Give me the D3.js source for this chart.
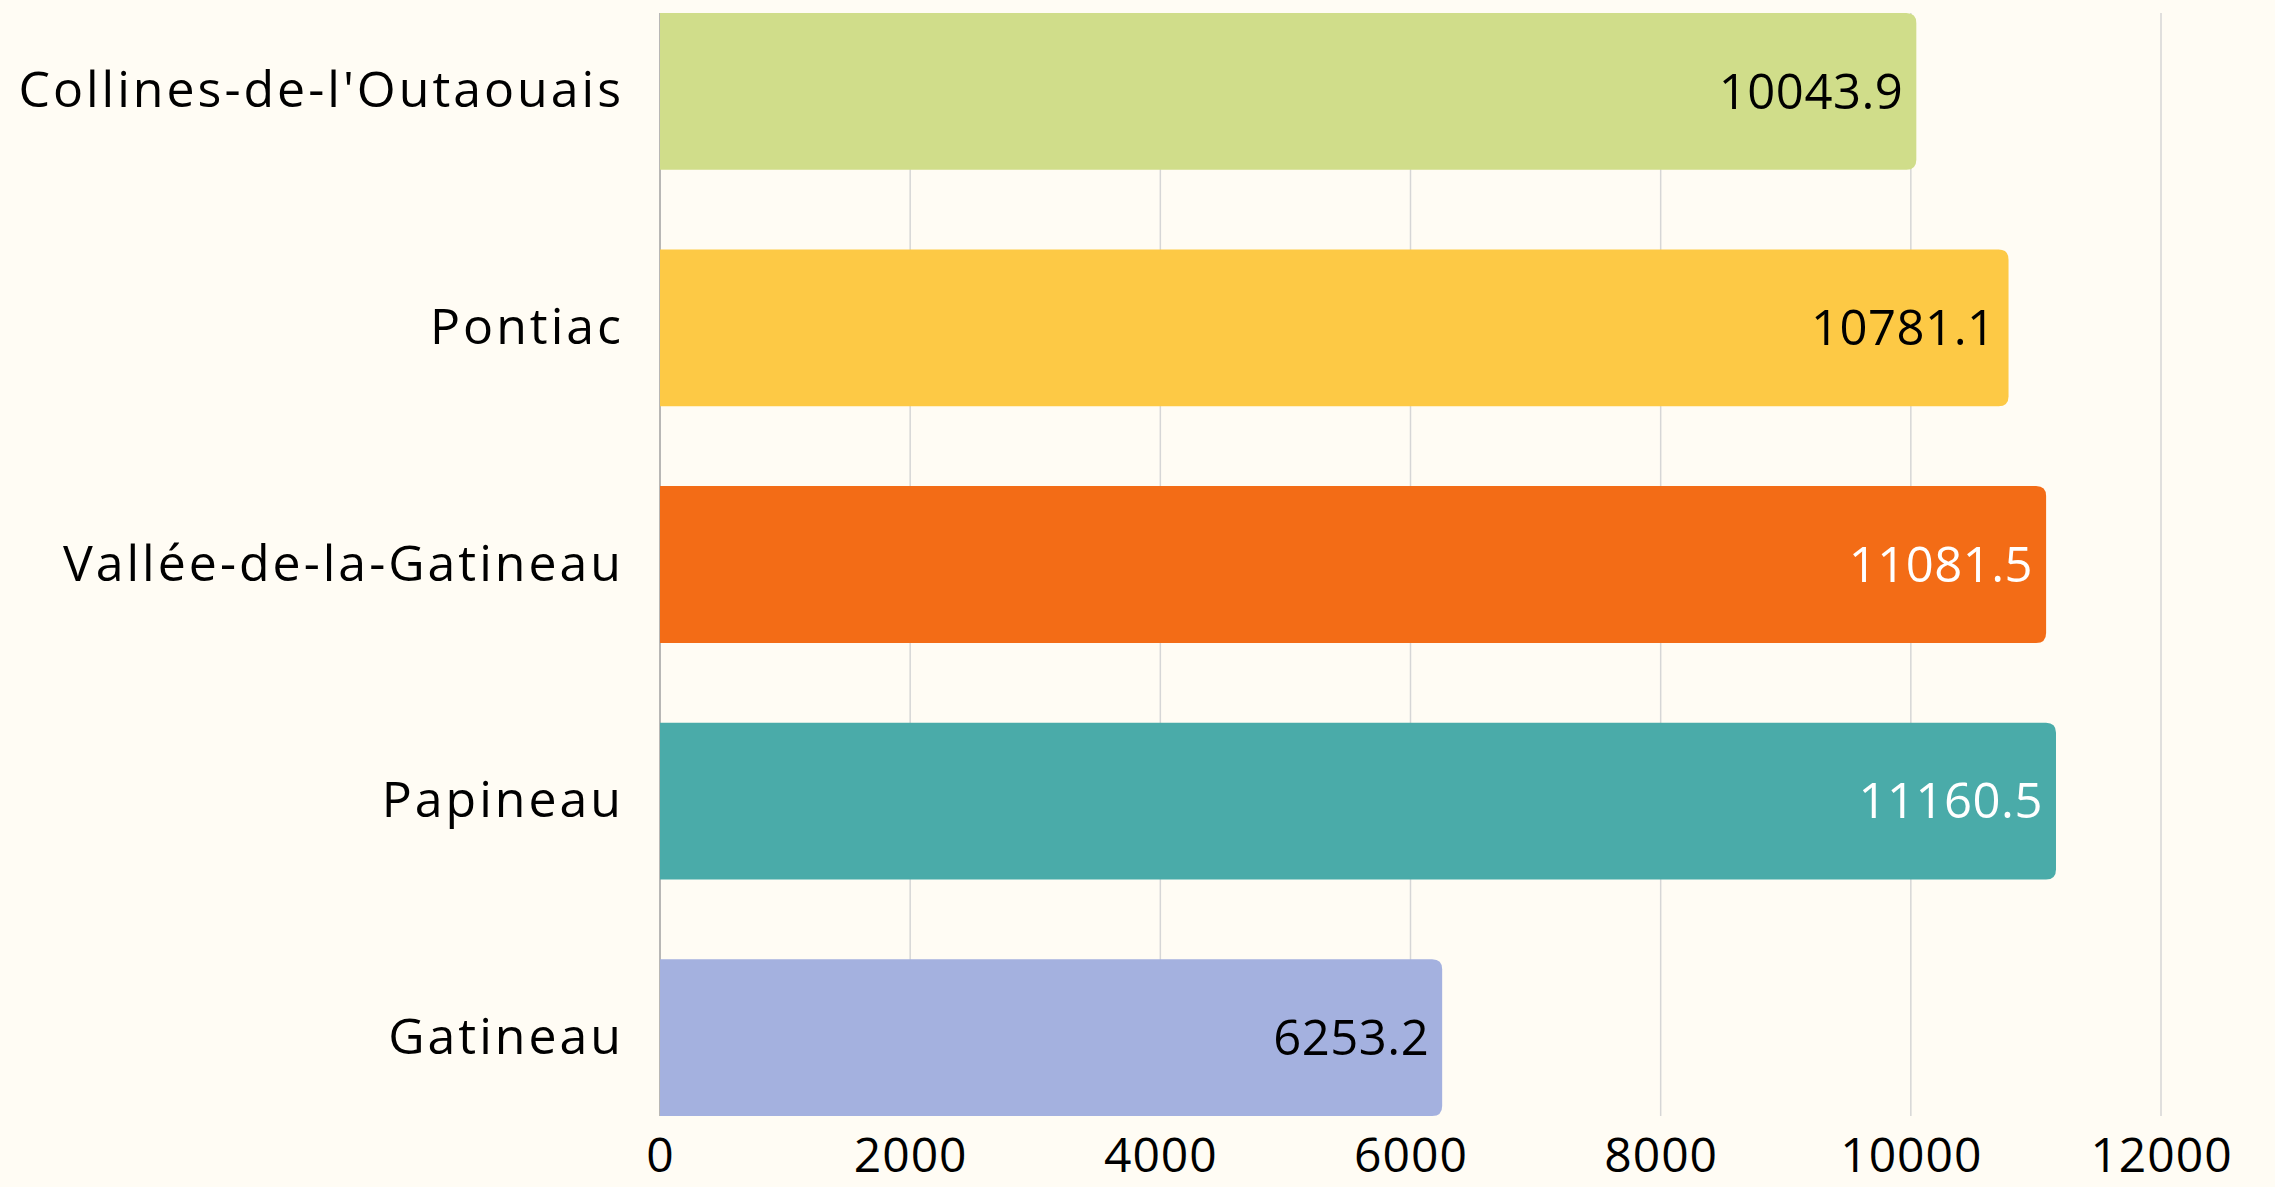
<!DOCTYPE html>
<html>
<head>
<meta charset="utf-8">
<script src="https://cdn.jsdelivr.net/npm/d3@7"></script>
<style>
  html, body { margin: 0; padding: 0; background: #fffcf4; }
  svg { display: block; }
</style>
</head>
<body>
<svg id="chart" width="2275" height="1187"></svg>
<script>
const categories = ["Collines-de-l'Outaouais", "Pontiac", "Vallée-de-la-Gatineau", "Papineau", "Gatineau"];
const values = [10043.9, 10781.1, 11081.5, 11160.5, 6253.2];
const barColors = ["#d0dd8a", "#fdc945", "#f36c16", "#4aaba9", "#a4b1df"];
const labelColors = ["#000000", "#000000", "#ffffff", "#ffffff", "#000000"];
const tickValues = [0, 2000, 4000, 6000, 8000, 10000, 12000];

const W = 2275, H = 1187;
const margin = { left: 660, right: 2275 - 2161, top: 13, bottom: H - 1116 };
const FONT = "'Open Sans', 'Noto Sans', sans-serif";

const svg = d3.select("#chart");
svg.append("rect").attr("width", W).attr("height", H).attr("fill", "#fffcf4");

const x = d3.scaleLinear().domain([0, 12000]).range([margin.left, W - margin.right]);
const y = d3.scaleBand().domain(categories).range([margin.top, H - margin.bottom])
  .paddingInner(0.337).paddingOuter(0);

// grid lines
svg.append("g").selectAll("line").data(tickValues.slice(1)).join("line")
  .attr("x1", d => x(d)).attr("x2", d => x(d))
  .attr("y1", margin.top).attr("y2", H - margin.bottom)
  .attr("stroke", "#d6d6d6").attr("stroke-width", 1.5);

// left axis line
svg.append("line")
  .attr("x1", x(0)).attr("x2", x(0))
  .attr("y1", margin.top).attr("y2", H - margin.bottom)
  .attr("stroke", "#a0a0a0").attr("stroke-width", 1.5);

const data = categories.map((c, i) => ({ c, v: values[i], color: barColors[i], lc: labelColors[i] }));
const r = 10;

function barPath(d) {
  const x0 = x(0), x1 = x(d.v), y0 = y(d.c), h = y.bandwidth(), y1 = y0 + h;
  return `M${x0},${y0} H${x1 - r} Q${x1},${y0} ${x1},${y0 + r} V${y1 - r} Q${x1},${y1} ${x1 - r},${y1} H${x0} Z`;
}

svg.append("g").selectAll("path").data(data).join("path")
  .attr("d", barPath).attr("fill", d => d.color);

// value labels
svg.append("g").selectAll("text").data(data).join("text")
  .attr("x", d => x(d.v) - 13)
  .attr("y", d => y(d.c) + y.bandwidth() / 2)
  .attr("dy", "0.35em")
  .attr("text-anchor", "end")
  .attr("font-family", FONT).attr("font-size", 49)
  .attr("letter-spacing", "0.5px")
  .attr("fill", d => d.lc)
  .text(d => d.v.toFixed(1));

// category labels
const yAxis = d3.axisLeft(y).tickSize(0).tickPadding(36);
const gy = svg.append("g").attr("transform", `translate(${x(0)},0)`).call(yAxis);
gy.select(".domain").remove();
gy.selectAll("text").attr("font-family", FONT).attr("font-size", 50)
  .attr("letter-spacing", "3px").attr("fill", "#000");

// x axis
const xAxis = d3.axisBottom(x).tickValues(tickValues).tickSize(0).tickPadding(22).tickFormat(d3.format("d"));
const gx = svg.append("g").attr("transform", `translate(0,${H - margin.bottom})`).call(xAxis);
gx.select(".domain").remove();
gx.selectAll("text").attr("font-family", FONT).attr("font-size", 48)
  .attr("letter-spacing", "1px").attr("fill", "#000");
</script>
</body>
</html>
